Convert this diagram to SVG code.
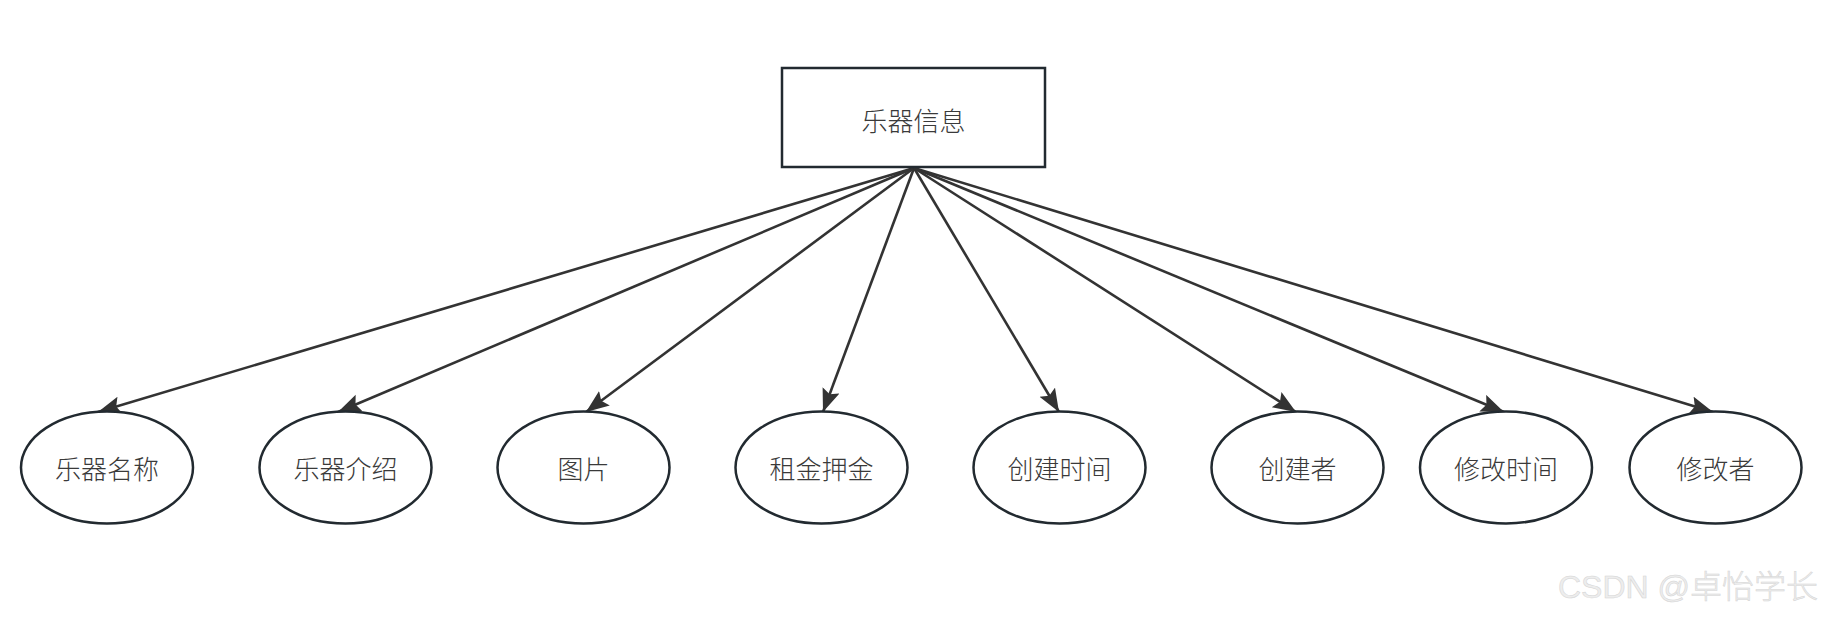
<svg xmlns="http://www.w3.org/2000/svg" width="1835" height="621" viewBox="0 0 1835 621">
<style>
.node{fill:#fff;stroke:#222a30;stroke-width:2.5}
.lbl{font-family:"Noto Sans CJK SC","Noto Sans",sans-serif;font-size:26px;font-weight:300;fill:#3a3a3a;text-anchor:middle;dominant-baseline:central}
.edge{fill:none;stroke:#333;stroke-width:2.6}
.wm{font-family:"Liberation Sans","Noto Sans CJK SC",sans-serif;font-size:32px;font-weight:300;fill:#ededed;stroke:#d4d4d4;stroke-width:0.5}
</style>
<defs>
<marker id="arr" markerUnits="userSpaceOnUse" markerWidth="26" markerHeight="20" refX="23" refY="9" orient="auto">
<path d="M0,0 L23,9 L0,18 L4,9 z" fill="#333"/>
</marker>
</defs>
<rect width="1835" height="621" fill="#fff"/>
<g id="connectors">
<line class="edge" x1="914" y1="168" x2="98" y2="412" marker-end="url(#arr)"/>
<line class="edge" x1="914" y1="168" x2="338" y2="412" marker-end="url(#arr)"/>
<line class="edge" x1="914" y1="168" x2="586" y2="412" marker-end="url(#arr)"/>
<line class="edge" x1="914" y1="168" x2="823" y2="412" marker-end="url(#arr)"/>
<line class="edge" x1="914" y1="168" x2="1059" y2="412" marker-end="url(#arr)"/>
<line class="edge" x1="914" y1="168" x2="1296" y2="412" marker-end="url(#arr)"/>
<line class="edge" x1="914" y1="168" x2="1504" y2="412" marker-end="url(#arr)"/>
<line class="edge" x1="914" y1="168" x2="1713" y2="412" marker-end="url(#arr)"/>
</g>
<g id="root"><rect class="node" x="782" y="68" width="263" height="99"/><text class="lbl" x="913.5" y="119">乐器信息</text></g>
<g id="n1"><ellipse class="node" cx="107" cy="467.5" rx="86" ry="56"/><text class="lbl" x="107" y="467">乐器名称</text></g>
<g id="n2"><ellipse class="node" cx="345.5" cy="467.5" rx="86" ry="56"/><text class="lbl" x="345.5" y="467">乐器介绍</text></g>
<g id="n3"><ellipse class="node" cx="583.5" cy="467.5" rx="86" ry="56"/><text class="lbl" x="583.5" y="467">图片</text></g>
<g id="n4"><ellipse class="node" cx="821.5" cy="467.5" rx="86" ry="56"/><text class="lbl" x="821.5" y="467">租金押金</text></g>
<g id="n5"><ellipse class="node" cx="1059.5" cy="467.5" rx="86" ry="56"/><text class="lbl" x="1059.5" y="467">创建时间</text></g>
<g id="n6"><ellipse class="node" cx="1297.5" cy="467.5" rx="86" ry="56"/><text class="lbl" x="1297.5" y="467">创建者</text></g>
<g id="n7"><ellipse class="node" cx="1506" cy="467.5" rx="86" ry="56"/><text class="lbl" x="1506" y="467">修改时间</text></g>
<g id="n8"><ellipse class="node" cx="1715.5" cy="467.5" rx="86" ry="56"/><text class="lbl" x="1715.5" y="467">修改者</text></g>
<text class="wm" x="1558" y="598">CSDN @卓怡学长</text>
</svg>
